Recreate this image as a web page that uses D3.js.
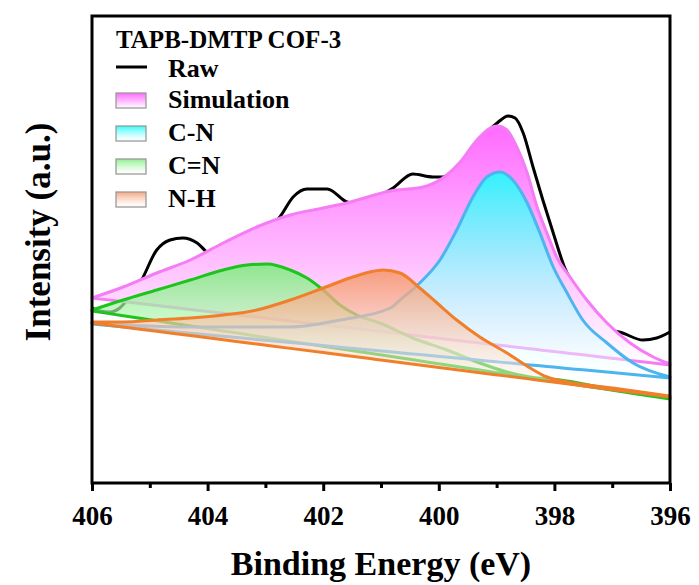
<!DOCTYPE html>
<html>
<head>
<meta charset="utf-8">
<script src="https://cdn.jsdelivr.net/npm/d3@7"></script>
<style>
  body { margin: 0; background: #fff; }
  text { font-family: "Liberation Serif", "Times New Roman", serif; font-weight: bold; fill: #000; }
</style>
</head>
<body>
<div id="chart"></div>
<script>
// binding energy (eV) and intensity (a.u.)
const rawBE  = [406.00, 405.86, 405.69, 405.52, 405.34, 405.17, 404.88, 404.65, 404.43, 404.18, 403.99, 403.70, 403.35, 403.01, 402.75, 402.52, 402.28, 401.93, 401.59, 401.28, 401.02, 400.79, 400.45, 400.10, 399.93, 399.63, 399.29, 398.99, 398.80, 398.68, 398.54, 398.37, 398.20, 398.02, 397.82, 397.56, 397.26, 396.99, 396.82, 396.47, 396.23, 396.00];
const rawInt = [175, 172, 171, 175, 187, 200, 233, 243, 245, 240, 230, 225, 231, 251, 266, 286, 294, 294, 281, 278, 287, 295, 309, 306, 306, 319, 343, 360, 367, 365, 350, 316, 283, 250, 215, 190, 165, 153, 150, 143, 145, 151];

const simBE  = [406.00, 405.46, 404.88, 404.30, 403.73, 403.15, 402.57, 402.00, 401.59, 400.84, 400.27, 399.86, 399.63, 399.34, 399.11, 398.99, 398.82, 398.65, 398.47, 398.30, 398.13, 397.96, 397.73, 397.44, 397.09, 396.69, 396.29, 396.00];
const simInt = [185, 196, 210, 223, 240, 256, 268, 275, 280, 292, 296, 308, 321, 343, 355, 357, 353, 336, 310, 276, 250, 226, 206, 183, 160, 140, 126, 119];
const simBg  = [[406, 185], [396, 118]];

const cnBE  = [406.00, 404.30, 402.57, 401.71, 400.84, 400.67, 400.33, 399.98, 399.69, 399.41, 399.17, 398.94, 398.72, 398.47, 398.25, 398.02, 397.78, 397.51, 397.09, 396.64, 396.00];
const cnInt = [160, 156, 156, 163, 175, 183, 200, 223, 253, 286, 306, 311, 303, 280, 250, 216, 190, 163, 140, 120, 106];
const cnBg  = [[406, 159], [396, 105]];

const ccBE  = [406.00, 405.46, 404.88, 404.30, 403.73, 403.32, 402.97, 402.57, 402.28, 402.00, 401.71, 401.42, 401.02, 400.45, 399.86, 399.29, 398.82, 398.42, 397.90, 397.21, 396.52, 396.00];
const ccInt = [173, 183, 193, 203, 213, 218, 219, 213, 205, 193, 178, 168, 160, 145, 133, 120, 111, 106, 103, 96, 89.5, 85];
const ccBg  = [[406, 172], [396, 84]];

const nhBE  = [406.00, 405.46, 404.88, 404.30, 403.73, 403.15, 402.57, 402.00, 401.54, 401.19, 400.97, 400.67, 400.33, 400.03, 399.69, 399.29, 398.82, 398.42, 398.13, 397.78, 396.99, 396.00];
const nhInt = [161, 161, 163, 165, 168, 173, 183, 195, 205, 211, 213, 210, 195, 180, 163, 146, 130, 115, 106, 101, 95, 87];
const nhBg  = [[406, 160], [396, 86]];

const xTicks = [406, 404, 402, 400, 398, 396];
const xMinor = [405, 403, 401, 399, 397];
const legendTitle = "TAPB-DMTP COF-3";

const width = 699, height = 585;
const m = { left: 92, right: 29, top: 16, bottom: 102 };

const svg = d3.select("#chart").append("svg")
  .attr("width", width).attr("height", height);

const x = d3.scaleLinear().domain([406, 396]).range([m.left, width - m.right]);
const y = d3.scaleLinear().domain([0, 467]).range([height - m.bottom, m.top]);

const defs = svg.append("defs");
function grad(id, top, topOp, botOp) {
  const g = defs.append("linearGradient").attr("id", id)
    .attr("x1", 0).attr("y1", 0).attr("x2", 0).attr("y2", 1);
  g.append("stop").attr("offset", "0%").attr("stop-color", top).attr("stop-opacity", topOp);
  g.append("stop").attr("offset", "100%").attr("stop-color", "#ffffff").attr("stop-opacity", botOp);
}
grad("gSim", "#ff6bff", 1, 1);
grad("gCN", "#1ffcfc", 0.92, 0.4);
grad("gCC", "#7aee7a", 0.85, 0.4);
grad("gNH", "#f59668", 0.85, 0.4);

const series = [
  { name: "Simulation", be: simBE, val: simInt, bg: simBg, fill: "gSim", stroke: "#f47cf4" },
  { name: "C=N", be: ccBE, val: ccInt, bg: ccBg, fill: "gCC", stroke: "#1ec41e" },
  { name: "C-N", be: cnBE, val: cnInt, bg: cnBg, fill: "gCN", stroke: "#4cb4ee" },
  { name: "N-H", be: nhBE, val: nhInt, bg: nhBg, fill: "gNH", stroke: "#f07f2c" }
];

// raw data line sits beneath the fitted envelope
const raw = rawBE.map((b, i) => [b, rawInt[i]]);
svg.append("path")
  .datum(raw)
  .attr("fill", "none")
  .attr("stroke", "#000")
  .attr("stroke-width", 3)
  .attr("stroke-linejoin", "round")
  .attr("d", d3.line().curve(d3.curveMonotoneX)
    .x(d => x(d[0])).y(d => y(d[1])));

function bgAt(bg, b) {
  const t = (b - bg[0][0]) / (bg[1][0] - bg[0][0]);
  return bg[0][1] + t * (bg[1][1] - bg[0][1]);
}

series.forEach(s => {
  const pts = s.be.map((b, i) => [b, s.val[i], bgAt(s.bg, b)]);
  svg.append("path")
    .datum(pts)
    .attr("fill", "url(#" + s.fill + ")")
    .attr("stroke", s.stroke)
    .attr("stroke-width", 3)
    .attr("stroke-linejoin", "round")
    .attr("d", d3.area().curve(d3.curveMonotoneX)
      .x(d => x(d[0])).y1(d => y(d[1])).y0(d => y(d[2])));
});

// frame
svg.append("rect")
  .attr("x", m.left).attr("y", m.top)
  .attr("width", width - m.left - m.right)
  .attr("height", height - m.top - m.bottom)
  .attr("fill", "none").attr("stroke", "#000").attr("stroke-width", 3);

const axY = height - m.bottom;
const xAxis = svg.append("g").attr("transform", "translate(0," + axY + ")")
  .call(d3.axisBottom(x).tickValues(xTicks).tickSize(8).tickPadding(15).tickFormat(d3.format("d")));
xAxis.select(".domain").remove();
xAxis.selectAll("line").attr("stroke-width", 3);
xAxis.selectAll("text").style("font-size", "27px").style("font-family", "Liberation Serif").style("font-weight", "bold");

const xMin = svg.append("g").attr("transform", "translate(0," + axY + ")")
  .call(d3.axisBottom(x).tickValues(xMinor).tickSize(5).tickFormat(""));
xMin.select(".domain").remove();
xMin.selectAll("line").attr("stroke-width", 3);

svg.append("text")
  .attr("x", (m.left + width - m.right) / 2).attr("y", 575)
  .attr("text-anchor", "middle").style("font-size", "34px")
  .text("Binding Energy (eV)");

svg.append("text")
  .attr("transform", "translate(50,232) rotate(-90)")
  .attr("text-anchor", "middle").style("font-size", "35px")
  .text("Intensity (a.u.)");

// legend
const lg = svg.append("g");
lg.append("text").attr("x", 116).attr("y", 48).style("font-size", "25px").text(legendTitle);
lg.append("line").attr("x1", 116).attr("x2", 147).attr("y1", 67).attr("y2", 67)
  .attr("stroke", "#000").attr("stroke-width", 3);
lg.append("text").attr("x", 168).attr("y", 77).style("font-size", "26px").text("Raw");

const legendOrder = ["Simulation", "C-N", "C=N", "N-H"];
legendOrder.forEach((name, i) => {
  const s = series.find(d => d.name === name);
  const yy = 93 + i * 33;
  lg.append("rect").attr("x", 116).attr("y", yy).attr("width", 30).attr("height", 15)
    .attr("fill", "url(#" + s.fill + ")").attr("stroke", "#9a9a9a").attr("stroke-width", 1.3);
  lg.append("text").attr("x", 168).attr("y", yy + 15).style("font-size", "26px").text(name);
});
</script>
</body>
</html>
